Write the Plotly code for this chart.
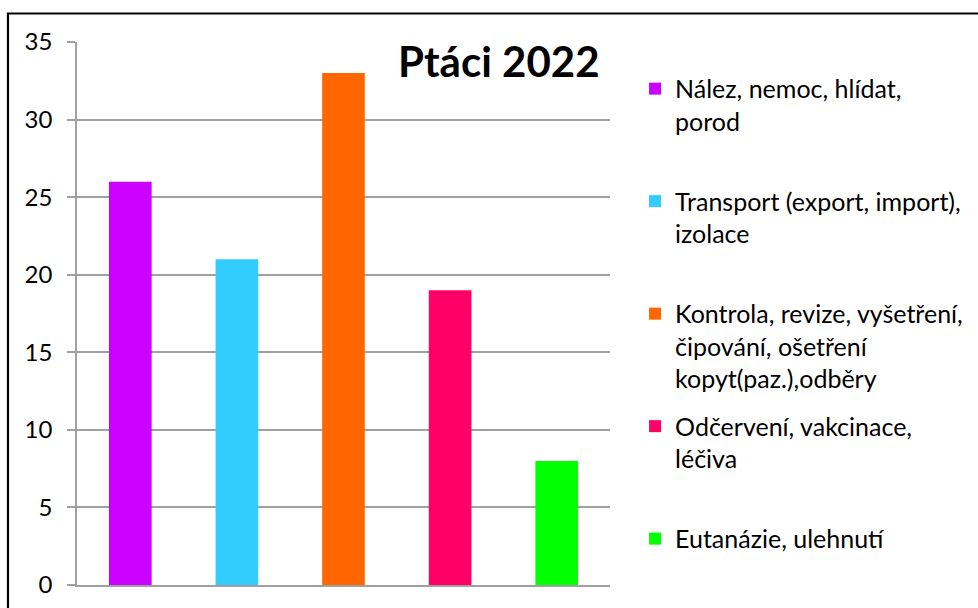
import plotly.graph_objects as go

categories = [
    "Nález, nemoc, hlídat,<br>porod",
    "Transport (export, import),<br>izolace",
    "Kontrola, revize, vyšetření,<br>čipování, ošetření<br>kopyt(paz.),odběry",
    "Odčervení, vakcinace,<br>léčiva",
    "Eutanázie, ulehnutí",
]
values = [26, 21, 33, 19, 8]
colors = ["#CC00FF", "#33CCFF", "#FF6600", "#FF0066", "#00FF00"]
title_text = "Ptáci 2022"
y_ticks = [0, 5, 10, 15, 20, 25, 30, 35]

FONT = "Lato, Carlito, Calibri, sans-serif"

fig = go.Figure()
max_lines = max(c.count("<br>") + 1 for c in categories)
n = len(categories)
for i, (cat, val, col) in enumerate(zip(categories, values, colors)):
    pad = 0 if i == n - 1 else max_lines - (cat.count("<br>") + 1)
    label = cat + "<br>&nbsp;" * pad
    fig.add_trace(go.Bar(
        x=[i], y=[val], name=label, marker=dict(color=col, line=dict(width=0)),
        width=0.4, legendgroup=f"g{i}",
    ))

fig.update_layout(
    width=978, height=608,
    margin=dict(l=77, r=368, t=42, b=23, autoexpand=False),
    paper_bgcolor="white", plot_bgcolor="white",
    barmode="overlay",
    showlegend=True,
    legend=dict(
        x=1.047, xanchor="left", y=0.956, yanchor="top",
        font=dict(family=FONT, size=25, color="#000"),
        valign="top", tracegroupgap=12, itemwidth=30,
        bgcolor="rgba(0,0,0,0)",
    ),
    xaxis=dict(
        range=[-0.5, 4.5], showticklabels=False, ticks="", showgrid=False,
        showline=True, linecolor="#A0A0A0", linewidth=1.5, zeroline=False,
        fixedrange=True,
    ),
    yaxis=dict(
        range=[0, 35], tickvals=y_ticks, ticks="outside", ticklen=8,
        tickcolor="#A0A0A0", tickwidth=1.5, showgrid=True, gridcolor="#A0A0A0",
        gridwidth=1.5, showline=True, linecolor="#A0A0A0", linewidth=1.5,
        zeroline=False, tickfont=dict(family=FONT, size=24, color="#000"),
        ticklabelstandoff=10,
    ),
    annotations=[dict(
        text=f"<b>{title_text}</b>", xref="paper", yref="paper",
        x=0.792, y=0.965, xanchor="center", yanchor="middle", showarrow=False,
        font=dict(family=FONT, size=42, color="#000"),
    )],
    shapes=[dict(
        type="rect", xref="paper", yref="paper",
        x0=-0.1295, x1=1.72, y0=-0.2, y1=1.0525,
        line=dict(color="#000", width=2.2), fillcolor="rgba(0,0,0,0)",
        layer="above",
    )],
)

fig.write_html(
    "out.html",
    config={"displayModeBar": False},
    post_script="document.body.style.margin='0';document.body.style.overflow='hidden';",
)
